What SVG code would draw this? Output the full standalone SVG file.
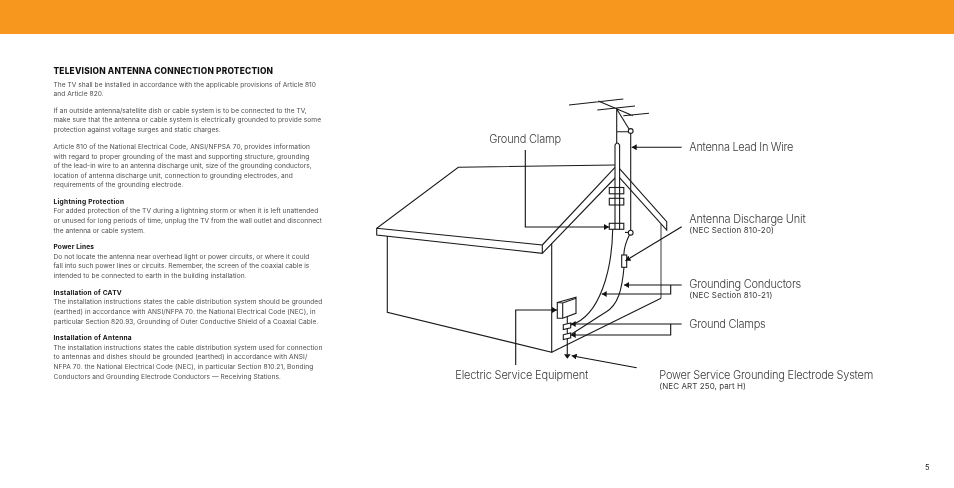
<svg xmlns="http://www.w3.org/2000/svg" width="954" height="488" viewBox="0 0 954 488">
<style>
text{font-family:Inter,"Liberation Sans",sans-serif}
.b{font-size:6.6px;fill:#4d4d4d;font-weight:400}
.h{font-size:6.6px;font-weight:700;fill:#111}
.t{font-size:8.4px;font-weight:800;fill:#111}
.l{font-size:11px;fill:#3a3a3a;font-weight:300}
.s{font-size:8px;fill:#3a3a3a;font-weight:400}
.k{fill:none;stroke:#1a1a1a;stroke-width:1.1}
.w{fill:#fff;stroke:#1a1a1a;stroke-width:1.1}
.g{fill:none;stroke:#666;stroke-width:1.3}
.a{fill:none;stroke:#111;stroke-width:1.1;marker-end:url(#ah)}
.gray{filter:url(#flat)}
</style>
<defs>
<filter id="flat" x="0" y="0" width="954" height="488" filterUnits="userSpaceOnUse" color-interpolation-filters="sRGB"><feOffset dx="0" dy="0"/></filter>
<marker id="ah" markerUnits="userSpaceOnUse" markerWidth="6" markerHeight="6" refX="5" refY="3" orient="auto"><path d="M0 0L5 3L0 6Z" fill="#111"/></marker>
</defs>
<rect id="banner" x="0" y="0" width="954" height="34" fill="#f8971d"/>
<g id="article" class="gray">
<text class="t" x="53.5" y="74" textLength="219.5">TELEVISION ANTENNA CONNECTION PROTECTION</text>
<text class="b" x="53.5" y="86.5" textLength="262.5">The TV shall be installed in accordance with the applicable provisions of Article 810</text>
<text class="b" x="53.5" y="96" textLength="50.2">and Article 820.</text>
<text class="b" x="53.5" y="112.5" textLength="253.2">If an outside antenna/satellite dish or cable system is to be connected to the TV,</text>
<text class="b" x="53.5" y="122" textLength="267.5">make sure that the antenna or cable system is electrically grounded to provide some</text>
<text class="b" x="53.5" y="132" textLength="167.2">protection against voltage surges and static charges.</text>
<text class="b" x="53.5" y="149" textLength="256.5">Article 810 of the National Electrical Code, ANSI/NFPSA 70, provides information</text>
<text class="b" x="53.5" y="158.5" textLength="255.8">with regard to proper grounding of the mast and supporting structure, grounding</text>
<text class="b" x="53.5" y="168" textLength="258.2">of the lead-in wire to an antenna discharge unit, size of the grounding conductors,</text>
<text class="b" x="53.5" y="177.5" textLength="239.2">location of antenna discharge unit, connection to grounding electrodes, and</text>
<text class="b" x="53.5" y="187" textLength="129.8">requirements of the grounding electrode.</text>
<text class="h" x="53.5" y="204" textLength="70.5">Lightning Protection</text>
<text class="b" x="53.5" y="213" textLength="264.8">For added protection of the TV during a lightning storm or when it is left unattended</text>
<text class="b" x="53.5" y="223" textLength="268.5">or unused for long periods of time, unplug the TV from the wall outlet and disconnect</text>
<text class="b" x="53.5" y="233" textLength="91.5">the antenna or cable system.</text>
<text class="h" x="53.5" y="249" textLength="40.5">Power Lines</text>
<text class="b" x="53.5" y="258.5" textLength="255.8">Do not locate the antenna near overhead light or power circuits, or where it could</text>
<text class="b" x="53.5" y="268" textLength="255.8">fall into such power lines or circuits. Remember, the screen of the coaxial cable is</text>
<text class="b" x="53.5" y="277.5" textLength="193.2">intended to be connected to earth in the building installation.</text>
<text class="h" x="53.5" y="294.5" textLength="68.2">Installation of CATV</text>
<text class="b" x="53.5" y="304" textLength="268.8">The installation instructions states the cable distribution system should be grounded</text>
<text class="b" x="53.5" y="313.5" textLength="262.2">(earthed) in accordance with ANSI/NFPA 70. the National Electrical Code (NEC), in</text>
<text class="b" x="53.5" y="323.5" textLength="264.8">particular Section 820.93, Grounding of Outer Conductive Shield of a Coaxial Cable.</text>
<text class="h" x="53.5" y="340" textLength="78.2">Installation of Antenna</text>
<text class="b" x="53.5" y="349.5" textLength="268.8">The installation instructions states the cable distribution system used for connection</text>
<text class="b" x="53.5" y="359" textLength="253.8">to antennas and dishes should be grounded (earthed) in accordance with ANSI/</text>
<text class="b" x="53.5" y="369" textLength="259.8">NFPA 70. the National Electrical Code (NEC), in particular Section 810.21, Bonding</text>
<text class="b" x="53.5" y="379" textLength="227.5">Conductors and Grounding Electrode Conductors — Receiving Stations.</text>
</g>
<g id="house">
<path class="k" d="M551.7 243V352.3L387.3 312.3V236"/>
<path class="g" d="M661 224V298.3"/>
<path class="k" d="M661 298.3L551.7 352.3"/>
<path class="k" d="M615 165L458.3 167.3L376.7 228.3V235L542.3 253.3V245L376.7 228.3"/>
<path class="k" d="M542.3 245L615 167.3M542.3 253.3L616 177"/>
<path class="k" d="M619.3 168.3L666.7 221.7V230L619.3 177.3"/>
</g>
<g id="antenna">
<path class="k" d="M569 105L623.3 99M597.3 110L635 106M623.3 115.7L649 113.3M598.3 101L633 115.7M616.7 109V143M616.7 109L629 129M616.7 131.7H628.3"/>
<path class="w" d="M615 229.3V145Q617.3 141 619.6 145V229.3"/>
<circle class="w" cx="630.7" cy="131" r="2.4"/>
<path class="k" d="M630.7 133.4V230.3"/>
</g>
<g id="ground-clamps">
<rect class="k" x="609.3" y="187.5" width="14.5" height="6.3"/>
<rect class="k" x="609.3" y="198.3" width="14.5" height="6.7"/>
<rect class="k" x="609.3" y="223.3" width="14.5" height="6"/>
</g>
<g id="discharge-unit">
<circle class="w" cx="630.7" cy="232.7" r="2.4"/>
<path class="k" d="M625 232.4H628.3"/>
<rect class="w" x="621.7" y="255" width="5" height="12.3"/>
</g>
<g id="service-equipment">
<path class="w" d="M557.3 302.5L576 297.3V313.3L562.7 318.3L557.3 318.3Z"/>
<path class="k" d="M562.7 303V318.3M557.3 302.5L562.7 303L576 298.2"/>
<path class="k" d="M567.3 316.5V354.5"/>
<path class="w" d="M563.3 324.8L570.7 323V327.8L563.3 329.6Z"/>
<path class="w" d="M563.3 334.8L570.7 333V337.8L563.3 339.6Z"/>
<path d="M564 354.3H570.7L567.3 358.7Z" fill="#111"/>
</g>
<g id="connectors">
<path class="k" d="M612.7 229.3C612 270 600 316 571 325"/>
<path class="k" d="M629.3 235Q624 246 623.8 255M624 267.3C622 290 618 305 606 312C590 322 580 329 571.5 334"/>
<path class="a" d="M525.3 150V227H609"/>
<path class="a" d="M681.7 147.3H631.7"/>
<path class="a" d="M681.7 226.7L625.5 260.7"/>
<path class="a" d="M681.7 285H624"/>
<path class="a" d="M670.7 285V294H601.7"/>
<path class="a" d="M681.7 324H570.7"/>
<path class="a" d="M670.7 324V335H570.7"/>
<path class="a" d="M636.7 367.7L571.7 355.7"/>
<path class="a" d="M515.7 365V310H557"/>
</g>
<g id="labels" class="gray">
<text class="l" x="489.3" y="143" textLength="71.7">Ground Clamp</text>
<text class="l" x="689.3" y="151" textLength="104">Antenna Lead In Wire</text>
<text class="l" x="689.3" y="222.7" textLength="116.4">Antenna Discharge Unit</text>
<text class="s" x="689.3" y="232.7" textLength="84.7">(NEC Section 810-20)</text>
<text class="l" x="689.3" y="287.7" textLength="112">Grounding Conductors</text>
<text class="s" x="689.3" y="297.7" textLength="83">(NEC Section 810-21)</text>
<text class="l" x="689.3" y="327.7" textLength="76.4">Ground Clamps</text>
<text class="l" x="455.3" y="378.7" textLength="133">Electric Service Equipment</text>
<text class="l" x="659.3" y="378.7" textLength="214">Power Service Grounding Electrode System</text>
<text class="s" x="659.3" y="388.7" textLength="86.7">(NEC ART 250, part H)</text>
</g>
<text id="page-number" class="gray" x="925" y="470" font-size="7.5" fill="#222">5</text>
</svg>
